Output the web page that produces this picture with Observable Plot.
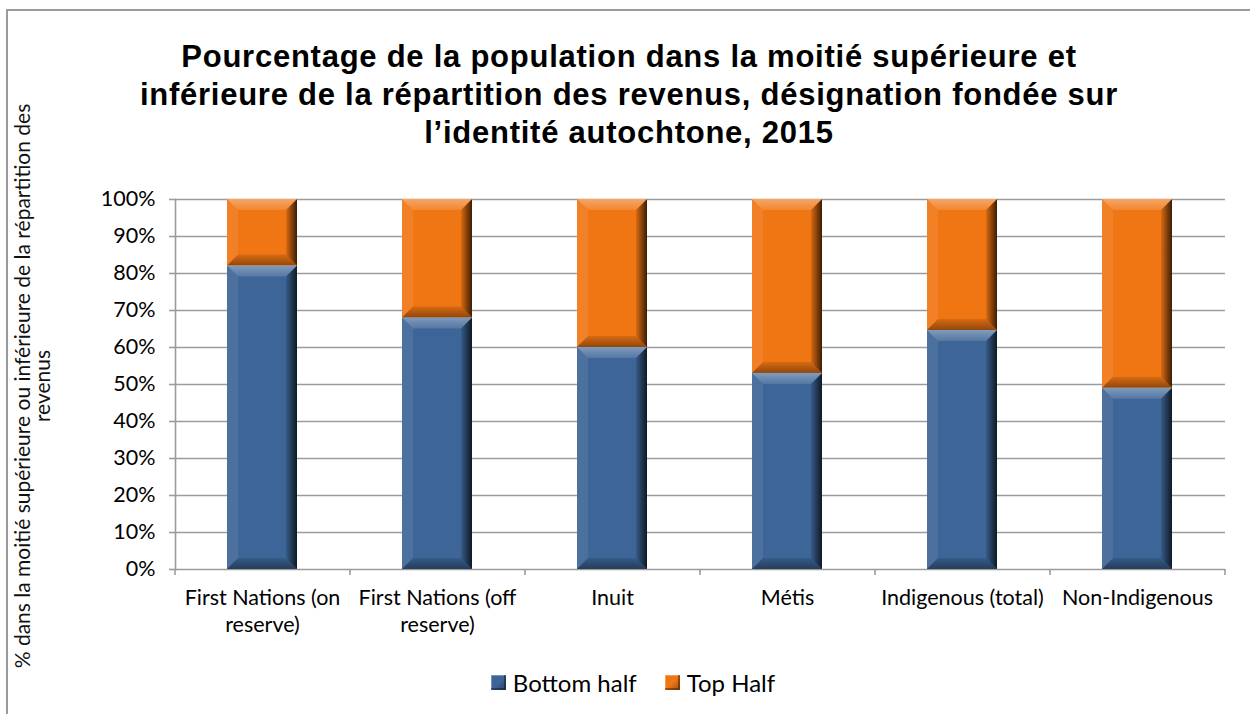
<!DOCTYPE html>
<html>
<head>
<meta charset="utf-8">
<script src="https://cdn.jsdelivr.net/npm/d3@7"></script>
<script src="https://cdn.jsdelivr.net/npm/@observablehq/plot@0.6"></script>
<style>
  html, body { margin: 0; padding: 0; background: #fff; }
  #wrap { position: relative; width: 1250px; height: 714px; overflow: hidden; background: #fff; }
  #frame { position: absolute; left: 6px; top: 9px; width: 1300px; height: 800px; border: 2px solid #9a9a9a; box-sizing: border-box; }
  #title { position: absolute; left: 0; top: 38px; width: 1258px; text-align: center; font-family: "Liberation Sans", Arial, sans-serif; font-weight: bold; font-size: 31px; letter-spacing: 0.75px; line-height: 38px; color: #000; }
  #ylabel { position: absolute; left: 32px; top: 386px; width: 700px; transform: translate(-50%, -50%) rotate(-90deg); text-align: center; font-family: Lato, "Open Sans", sans-serif; font-size: 21px; line-height: 20px; color: #111; }
  #chart { position: absolute; left: 0; top: 160px; }
  #legend { position: absolute; left: 0; top: 668px; width: 1266px; display: flex; justify-content: center; align-items: center; font-family: Lato, "Open Sans", sans-serif; font-size: 24px; color: #000; }
  .item { display: flex; align-items: center; margin: 0 14px; }
  .sw { width: 15px; height: 15px; margin-right: 7px; }
</style>
</head>
<body>
<div id="wrap">
  <div id="frame"></div>
  <div id="chart"></div>
  <div id="title"></div>
  <div id="ylabel"></div>
  <div id="legend"></div>
</div>
<script>
// ---- data ----
const titleLines = [
  "Pourcentage de la population dans la moitié supérieure et",
  "inférieure de la répartition des revenus, désignation fondée sur",
  "l’identité autochtone, 2015"
];
const yLabelLines = [
  "% dans la moitié supérieure ou inférieure de la répartition des",
  "revenus"
];
const categories = ["First Nations (on reserve)", "First Nations (off reserve)", "Inuit", "Métis", "Indigenous (total)", "Non-Indigenous"];
const xTickLabels = ["First Nations (on\nreserve)", "First Nations (off\nreserve)", "Inuit", "Métis", "Indigenous (total)", "Non-Indigenous"];
const seriesNames = ["Bottom half", "Top Half"];
const bottomHalf = [82, 68, 60, 53, 64.6, 49];
const topHalf = [18, 32, 40, 47, 35.4, 51];
const yTicks = [0, 10, 20, 30, 40, 50, 60, 70, 80, 90, 100];
const seriesColors = ["#3d6597", "#f07614"];

// ---- build table ----
const data = [];
categories.forEach((c, i) => {
  data.push({category: c, series: seriesNames[0], value: bottomHalf[i]});
  data.push({category: c, series: seriesNames[1], value: topHalf[i]});
});

document.getElementById("title").innerHTML = titleLines.join("<br>");
document.getElementById("ylabel").innerHTML = yLabelLines.join("<br>");

const W = 1250, H = 490;
const mL = 175, mR = 25, mT = 39, mB = 81;
const step = (W - mL - mR) / categories.length;

const plot = Plot.plot({
  width: W,
  height: H,
  marginLeft: mL,
  marginRight: mR,
  marginTop: mT,
  marginBottom: mB,
  style: {fontFamily: "Lato, 'Open Sans', sans-serif", background: "transparent", color: "#000"},
  x: {domain: categories, paddingInner: 0.6, paddingOuter: 0.3, label: null},
  y: {domain: [0, 100], label: null},
  color: {domain: seriesNames, range: seriesColors},
  marks: [
    Plot.ruleY(yTicks, {stroke: "#9c9c9c", strokeWidth: 1.6}),
    Plot.frame({anchor: "left", stroke: "#9c9c9c", strokeWidth: 1.6}),
    Plot.axisY({ticks: yTicks, tickFormat: d => d + "%", tickSize: 6, tickPadding: 14, fontSize: 21.5, stroke: "#9c9c9c", strokeWidth: 1.6, label: null}),
    Plot.axisX({tickSize: 0, tickPadding: 16, fontSize: 21.5, lineHeight: 1.26, tickFormat: d => xTickLabels[categories.indexOf(d)], label: null}),
    Plot.axisX({tickSize: 6, dx: -step / 2, tickFormat: () => "", stroke: "#9c9c9c", strokeWidth: 1.6, label: null}),
    Plot.axisX({ticks: [categories[categories.length - 1]], tickSize: 6, dx: step / 2, tickFormat: () => "", stroke: "#9c9c9c", strokeWidth: 1.6, label: null}),
    Plot.barY(data, Plot.stackY({x: "category", y: "value", fill: "series", order: seriesNames}))
  ]
});
document.getElementById("chart").appendChild(plot);

// ---- bevel decoration on Plot's own rects ----
const svg = d3.select(plot);
const defs = svg.insert("defs", ":first-child");
const gR = defs.append("linearGradient").attr("id", "bevR").attr("x1", 0).attr("x2", 1).attr("y1", 0).attr("y2", 0);
gR.append("stop").attr("offset", "0%").attr("stop-color", "#000").attr("stop-opacity", 0.1);
gR.append("stop").attr("offset", "100%").attr("stop-color", "#000").attr("stop-opacity", 0.75);
const gT = defs.append("linearGradient").attr("id", "bevT").attr("x1", 0).attr("x2", 0).attr("y1", 0).attr("y2", 1);
gT.append("stop").attr("offset", "0%").attr("stop-color", "#fff").attr("stop-opacity", 0.35);
gT.append("stop").attr("offset", "100%").attr("stop-color", "#fff").attr("stop-opacity", 0.12);
const gB = defs.append("linearGradient").attr("id", "bevB").attr("x1", 0).attr("x2", 0).attr("y1", 0).attr("y2", 1);
gB.append("stop").attr("offset", "0%").attr("stop-color", "#000").attr("stop-opacity", 0.1);
gB.append("stop").attr("offset", "100%").attr("stop-color", "#000").attr("stop-opacity", 0.4);

const barGroup = svg.selectAll("g[aria-label='bar']");
const overlay = svg.append("g").attr("pointer-events", "none");
barGroup.selectAll("rect").each(function() {
  const r = d3.select(this);
  const x = +r.attr("x"), y = +r.attr("y"), w = +r.attr("width"), h = +r.attr("height");
  const b = Math.min(11, h / 2, w / 2);
  const pts = a => a.map(p => p.join(",")).join(" ");
  overlay.append("polygon").attr("points", pts([[x, y], [x + b, y + b], [x + b, y + h - b], [x, y + h]])).attr("fill", "#fff").attr("fill-opacity", 0.08);
  overlay.append("polygon").attr("points", pts([[x + w, y], [x + w, y + h], [x + w - b, y + h - b], [x + w - b, y + b]])).attr("fill", "url(#bevR)");
  overlay.append("polygon").attr("points", pts([[x, y], [x + w, y], [x + w - b, y + b], [x + b, y + b]])).attr("fill", "url(#bevT)");
  overlay.append("polygon").attr("points", pts([[x, y + h], [x + w, y + h], [x + w - b, y + h - b], [x + b, y + h - b]])).attr("fill", "url(#bevB)");
});

// ---- legend ----
const legend = d3.select("#legend");
seriesNames.forEach((s, i) => {
  const it = legend.append("div").attr("class", "item");
  it.append("div").attr("class", "sw")
    .style("background", `linear-gradient(135deg, ${seriesColors[i]} 0%, ${seriesColors[i]} 50%, ${d3.color(seriesColors[i]).darker(1.2)} 100%)`)
    .style("box-shadow", "inset -2px -2px 0 rgba(0,0,0,0.35), inset 1px 1px 0 rgba(255,255,255,0.3)");
  it.append("span").text(s);
});
</script>
</body>
</html>
